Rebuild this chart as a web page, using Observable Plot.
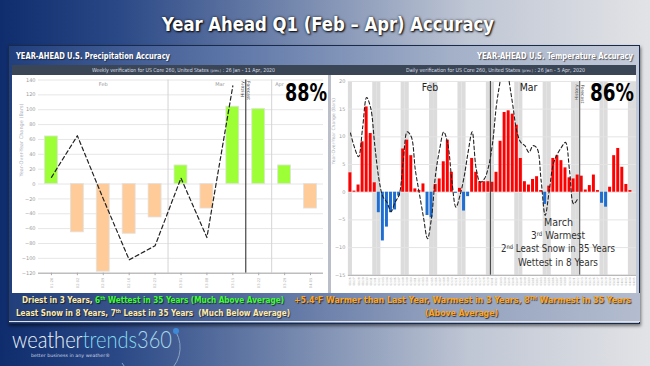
<!DOCTYPE html>
<html><head><meta charset="utf-8">
<script src="https://cdn.jsdelivr.net/npm/d3@7"></script>
<script src="https://cdn.jsdelivr.net/npm/@observablehq/plot@0.6"></script>
<style>
body{margin:0;width:650px;height:366px;overflow:hidden;position:relative;font-family:"DejaVu Sans Condensed","Liberation Sans Narrow","DejaVu Sans",sans-serif;
background:linear-gradient(90deg,#0f2c6c 0%,#2a4886 18%,#7487ad 45%,#bfc6d4 72%,#e2e3e6 100%);}
.abs{position:absolute;}
.fit{position:absolute;white-space:nowrap;transform-origin:0 50%;}
sup{font-size:0.6em;line-height:0;vertical-align:0.55em;}
</style></head><body>

<div class="fit" data-w="332" style="left:162px;top:13px;color:#fff;font-size:19px;font-weight:bold;line-height:22px;text-shadow:1px 1px 2px #000,0 0 3px rgba(0,0,0,.6);">Year Ahead Q1 (Feb – Apr) Accuracy</div>

<div class="abs" style="left:8px;top:45px;width:630px;height:277px;border:1.5px solid #1a2a4a;box-shadow:1px 2px 3px rgba(0,0,0,.5);background:linear-gradient(90deg,#213f7d 0%,#5d76a8 35%,#a3b0c8 70%,#c3cad8 100%);"></div>
<div class="fit" data-w="154" style="left:16px;top:50px;color:#fff;font-size:8.5px;font-weight:bold;line-height:12px;text-shadow:1px 1px 1px rgba(0,0,0,.5);">YEAR-AHEAD U.S. Precipitation Accuracy</div>
<div class="fit" data-w="156" style="left:477px;top:50px;color:#fff;font-size:8.5px;font-weight:bold;line-height:12px;text-shadow:1px 1px 1px rgba(0,0,0,.6);">YEAR-AHEAD U.S. Temperature Accuracy</div>
<div class="abs" style="left:12px;top:65px;width:624px;height:10px;background:#3a4656;"></div>
<div class="fit" data-w="183" style="left:92px;top:66.5px;color:#d8dce4;font-size:5.5px;line-height:7px;font-family:'DejaVu Sans',sans-serif;">Weekly verification for US Core 260, United States <span style="font-size:4px">(prev.)</span> : 26 Jan - 11 Apr, 2020</div>
<div class="fit" data-w="179" style="left:406px;top:66.5px;color:#d8dce4;font-size:5.5px;line-height:7px;font-family:'DejaVu Sans',sans-serif;">Daily verification for US Core 260, United States <span style="font-size:4px">(prev.)</span> : 26 Jan - 5 Apr, 2020</div>
<div class="abs" style="left:12px;top:75px;width:316px;height:218px;background:#fff;"></div>
<div class="abs" style="left:328px;top:75px;width:3px;height:218px;background:#b9bec8;"></div>
<div class="abs" style="left:331px;top:75px;width:305px;height:218px;background:#fff;"></div>

<div id="precip" class="abs" style="left:12px;top:75px;width:316px;height:218px;overflow:hidden;"></div>
<div id="temp" class="abs" style="left:331px;top:75px;width:305px;height:218px;overflow:hidden;"></div>

<div class="fit" data-w="42" style="left:285px;top:80px;font-size:25px;font-weight:bold;line-height:26px;color:#000;">88%</div>
<div class="fit" data-w="44" style="left:590px;top:80px;font-size:25px;font-weight:bold;line-height:26px;color:#000;">86%</div>

<div class="fit" data-w="29" style="left:543.5px;top:216px;font-size:10.5px;line-height:13px;color:#333;">March</div>
<div class="fit" data-w="54" style="left:531px;top:229px;font-size:10.5px;line-height:13px;color:#333;">3<sup>rd</sup> Warmest</div>
<div class="fit" data-w="114" style="left:501px;top:242px;font-size:10.5px;line-height:13px;color:#333;">2<sup>nd</sup> Least Snow in 35 Years</div>
<div class="fit" data-w="80" style="left:518px;top:255.5px;font-size:10.5px;line-height:13px;color:#333;">Wettest in 8 Years</div>

<div class="abs" style="left:9px;top:293px;width:631px;height:28px;background:linear-gradient(90deg,#223f7b 0%,#4e679b 35%,#8d9cbb 65%,#b4bdcf 100%);border-bottom:1px solid #dfe3ea;"></div>
<div class="fit" data-w="262" style="left:22px;top:293.5px;font-size:9px;font-weight:bold;line-height:13px;text-shadow:1px 1px 1px rgba(0,0,0,.6);"><span style="color:#ffe9a8">Driest in 3 Years, </span><span style="color:#3cff2e">6<sup>th</sup> Wettest in 35 Years (Much Above Average)</span></div>
<div class="fit" data-w="274" style="left:16px;top:306.5px;font-size:9px;font-weight:bold;line-height:13px;text-shadow:1px 1px 1px rgba(0,0,0,.6);color:#ffe9a8;">Least Snow in 8 Years, 7<sup>th</sup> Least in 35 Years&nbsp; (Much Below Average)</div>
<div class="fit" data-w="337" style="left:294px;top:293.5px;font-size:9px;font-weight:bold;line-height:13px;color:#ffa51e;text-shadow:1px 1px 1px rgba(0,0,0,.7);">+5.4<sup>o</sup>F Warmer than Last Year, Warmest in 3 Years, 8<sup>TH</sup> Warmest in 35 Years</div>
<div class="fit" data-w="73" style="left:425px;top:306.5px;font-size:9px;font-weight:bold;line-height:13px;color:#ffa51e;text-shadow:1px 1px 1px rgba(0,0,0,.7);">(Above Average)</div>

<svg class="abs" style="left:118px;top:318px;" width="72" height="48"><path d="M4,45 A27,27 0 0 0 58,14" fill="none" stroke="#8aa3c4" stroke-width="1"/><circle cx="58" cy="13" r="3" fill="#3d8ad8"/></svg>
<div class="fit" data-w="160" style="left:12px;top:326px;font-family:Lato,'Open Sans',sans-serif;font-weight:300;font-size:24px;line-height:26px;"><span style="color:#e9f3f7">weather</span><span style="color:#86dcef">trends</span><span style="color:#a6d9ea">360</span></div>
<div class="fit" data-w="79" style="left:31px;top:353px;font-family:'DejaVu Sans',sans-serif;font-size:4.5px;line-height:6px;color:#c8d4e4;">better business in any weather®</div>

<script>
// ---------- Precipitation (weekly) ----------
const precipWeeks = ["01-26","02-02","02-09","02-16","02-23","03-01","03-08","03-15","03-22","03-29","04-05"];
const precipChange = [64,-65,-118,-67,-45,25,-33,104,101,25,-33];
const precipHistoryLine = [9,65,-20,-102,-83,8,-72,132];
const precipMonthNames = ["Feb","Mar","Apr"];
const precipMonthLabelWeek = [2,6.5,8.8];
const precipMonthStartWeeks = [5,9];
const precipYTicks = [-120,-100,-80,-60,-40,-20,0,20,40,60,80,100,120,140];

// ---------- Temperature (daily) ----------
const tempStartDate = "2020-01-26";
const tempDayCount = 71;
const tempChange = [3.5,0.2,1.3,9.1,15.4,10.6,1.7,-3.7,-8.8,-6.3,
  -3.7,-3.2,-0.7,7.8,9.4,6.6,0.6,0.3,1.5,-4.2,
  -4.6,1.4,2.4,5.5,9.4,3.6,-0.2,0.7,-3.4,-0.8,
  6.1,3.6,1.9,1.9,1.9,1.8,3.6,9.2,14.4,14.7,
  14.1,12.1,6.1,1.9,1.3,2.3,2.8,0.3,-2.2,1.1,
  6.1,6.6,5.7,4.4,2.6,2.4,3.1,2.9,0.4,1.2,
  3.1,0.3,-2.0,-2.7,0.9,6.6,7.9,4.5,1.4,0.3];
const tempHistoryLine = [10.7,8.1,6.4,11.6,17.1,15.2,8.5,2.5,-0.8,-1.8,
  -3.5,-1.8,-0.5,5.5,10.9,10.0,4.0,-0.3,-4.5,-8.4,
  -4.5,3.3,7.8,10.9,8.7,2.1,-2.7,-0.6,2.7,7.2,
  10.9,4.2,1.8,2.4,4.5,8.7,15.8,20.6,26,20.6,
  15.8,11,9,8.4,7.2,8.4,7.9,2.1,-4.2,0.3,
  5.1,6.9,8.1,9.0,3.9,-2.1,-1.2];
const tempMonthNames = ["Feb","Mar"];
const tempMonthLabelDay = [20.1,44.4];
const tempMarkerDates = ["2020-03-01"];
const tempYTicks = [-15,-10,-5,0,5,10,15,20];

const axisFont = "'DejaVu Sans',sans-serif";

// Precip chart
{
  const bars = precipChange.map((v,i)=>({i,v}));
  const line = precipHistoryLine.map((v,i)=>({i,v}));
  const histEnd = precipHistoryLine.length - 1 + 0.5;
  const chart = Plot.plot({
    width:316, height:218, marginLeft:26, marginRight:5, marginTop:4.5, marginBottom:20.3,
    x:{domain:[-0.5, precipWeeks.length-0.5], axis:null},
    y:{domain:[-120,140], axis:null},
    style:{background:"transparent", fontFamily:axisFont, overflow:"visible"},
    marks:[
      Plot.ruleY(precipYTicks,{stroke:"#e6e6e6"}),
      Plot.ruleX(precipMonthStartWeeks,{x:d=>d-0.5, stroke:"#d4d4d4"}),
      Plot.rectY(bars,{x1:d=>d.i-0.25, x2:d=>d.i+0.25, y1:0, y2:d=>d.v, fill:d=>d.v>=0?"#9dff36":"#ffcb98", stroke:"#e2e2e2", strokeWidth:0.8}),
      Plot.ruleX([histEnd],{stroke:"#333", strokeWidth:1.1}),
      Plot.line(line,{x:"i", y:"v", stroke:"#222", strokeWidth:1.2, strokeDasharray:"4,2.8"}),
      Plot.ruleY([-120],{stroke:"#a8a8a8"}),
      Plot.axisY({ticks:precipYTicks, label:null, tickSize:0, tickPadding:3, fontSize:5, color:"#9a9a9a"}),
      Plot.axisX({ticks:d3.range(precipWeeks.length), label:null, tickFormat:i=>precipWeeks[i], tickRotate:-90, fontSize:3.6, tickSize:2.5, tickPadding:2, color:"#aaa"}),
      Plot.text(precipMonthNames,{x:(d,i)=>precipMonthLabelWeek[i], y:140, dy:4, fontSize:5, fill:"#999"}),
      Plot.text(["History"],{x:histEnd, y:140, dx:-3, dy:1, rotate:-90, textAnchor:"end", fontSize:4.5, fill:"#444"}),
      Plot.text(["Forecast"],{x:histEnd, y:140, dx:3, dy:1, rotate:90, textAnchor:"start", fontSize:4.5, fill:"#444"}),
      Plot.text(["Year-Over-Year Change (Bars)"],{frameAnchor:"left", dx:-17, rotate:-90, fontSize:5, fill:"#aab0bc"})
    ]
  });
  document.getElementById("precip").appendChild(chart);
}

// Temp chart
{
  const t0 = new Date(tempStartDate+"T00:00:00Z");
  const days = d3.range(tempDayCount).map(i=>d3.utcDay.offset(t0,i));
  const weekends = days.map((d,i)=>({d,i})).filter(o=>o.d.getUTCDay()===0||o.d.getUTCDay()===6).map(o=>o.i);
  const markers = tempMarkerDates.map(s=>Math.round((new Date(s+"T00:00:00Z")-t0)/864e5));
  const bars = tempChange.map((v,i)=>({i,v}));
  const line = tempHistoryLine.map((v,i)=>({i,v}));
  const histEnd = tempHistoryLine.length;
  const fmt = d3.utcFormat("%m/%d");
  const chart = Plot.plot({
    width:307, height:218, marginLeft:17, marginRight:0, marginTop:6, marginBottom:16.9,
    x:{domain:[0,tempDayCount], axis:null},
    y:{domain:[-15,20], axis:null},
    style:{background:"transparent", fontFamily:axisFont, overflow:"visible"},
    marks:[
      Plot.rect(weekends,{x1:d=>d, x2:d=>d+1, fill:"#dcdcdc"}),
      Plot.ruleY(tempYTicks,{stroke:"#e4e4e4"}),
      Plot.rectY(bars,{x1:d=>d.i, x2:d=>d.i+1, y1:0, y2:d=>d.v, insetLeft:0.55, insetRight:0.55, fill:d=>d.v>=0?"#ff0000":"#1f6fd2"}),
      Plot.ruleX(markers,{stroke:"#444", strokeWidth:1.1}),
      Plot.ruleX([histEnd],{stroke:"#555", strokeWidth:1.1}),
      Plot.line(line,{x:d=>d.i+0.5, y:"v", curve:"catmull-rom", stroke:"#222", strokeWidth:1.1, strokeDasharray:"3.5,2.5", clip:true}),
      Plot.ruleY([-15],{stroke:"#a8a8a8"}),
      Plot.axisY({ticks:tempYTicks, label:null, tickSize:0, tickPadding:3, fontSize:5, color:"#9a9a9a"}),
      Plot.axisX({ticks:d3.range(tempDayCount).map(i=>i+0.5), label:null, tickFormat:v=>fmt(days[Math.floor(v)]), tickRotate:-90, fontSize:3, tickSize:0, tickPadding:2, color:"#b0b0b0"}),
      Plot.text(tempMonthNames,{x:(d,i)=>tempMonthLabelDay[i], y:20, dy:6, fontSize:10.5, fill:"#222", fontFamily:"'DejaVu Sans Condensed',sans-serif"}),
      Plot.text(["History"],{x:histEnd, y:20, dx:-3, dy:3, rotate:-90, textAnchor:"end", fontSize:4.5, fill:"#444"}),
      Plot.text(["Forecast"],{x:histEnd, y:20, dx:3, dy:3, rotate:90, textAnchor:"start", fontSize:4.5, fill:"#444"}),
      Plot.text(["Year-Over-Year Change (Bars)"],{frameAnchor:"left", y:5, dx:-15, rotate:-90, fontSize:4.6, fill:"#aab0bc"})
    ]
  });
  document.getElementById("temp").appendChild(chart);
}

// fit text boxes to the widths measured on the reference
document.querySelectorAll(".fit").forEach(el => {
  const w = +el.dataset.w;
  const actual = el.getBoundingClientRect().width;
  if (actual > 0) el.style.transform = `scaleX(${w / actual})`;
});
</script>
</body></html>
